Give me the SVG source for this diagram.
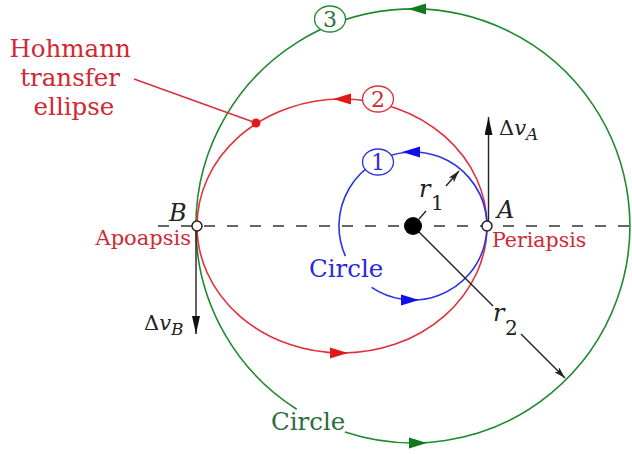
<svg xmlns="http://www.w3.org/2000/svg" xmlns:xlink="http://www.w3.org/1999/xlink" width="632" height="454" viewBox="0 0 632 454">
  <style>
    text { font-family: "DejaVu Serif", "Liberation Serif", serif; }
    .red { fill: #cf2a33; }
    .blue { fill: #2a2ad6; }
    .green { fill: #2c6e3c; }
    .ink { fill: #222; }
    .it { font-style: italic; }
    .orbit { fill: none; stroke-width: 1.6; }
    .lbl { fill: #fff; stroke-width: 1.3; }
    .digit { font-size: 22px; text-anchor: middle; }
    .blk { stroke: #222; stroke-width: 1.4; fill: none; }
  </style>
  <defs>
    <path id="ah" d="M9,0 L-9,-5.5 L-9,5.5 Z"/>
    <marker id="dv" viewBox="0 0 18 8" refX="18" refY="4" markerWidth="18" markerHeight="8" markerUnits="userSpaceOnUse" orient="auto">
      <path d="M0,0 L18,4 L0,8 Z" fill="#111"/>
    </marker>
    <marker id="rad" viewBox="0 0 12 7" refX="12" refY="3.5" markerWidth="12" markerHeight="7" markerUnits="userSpaceOnUse" orient="auto">
      <path d="M0,0 L12,3.5 L0,7 L3,3.5 Z" fill="#222"/>
    </marker>
  </defs>

  <!-- apse line -->
  <line x1="158" y1="226" x2="632" y2="226" stroke="#333" stroke-width="1.5" stroke-dasharray="11 12"/>

  <!-- orbit 3: outer circle -->
  <g id="orbit3">
    <path class="orbit" stroke="#1f8a2f" d="M296.7,409.2 A217,217 0 1 1 344.9,432.0"/>
    <use xlink:href="#ah" fill="#127a1c" transform="translate(417,9) rotate(180)"/>
    <use xlink:href="#ah" fill="#127a1c" transform="translate(418,443)"/>
    <ellipse class="lbl" stroke="#1f8a2f" cx="330" cy="19" rx="15.5" ry="13"/>
    <text class="digit green" x="330" y="27">3</text>
    <text class="green" x="271" y="430" font-size="24.5">Circle</text>
  </g>

  <!-- orbit 2: transfer ellipse -->
  <g id="orbit2">
    <ellipse class="orbit" stroke="#e0303a" cx="342" cy="226" rx="145" ry="127"/>
    <use xlink:href="#ah" fill="#e01818" transform="translate(342,99) rotate(180)"/>
    <use xlink:href="#ah" fill="#e01818" transform="translate(339,353)"/>
    <ellipse class="lbl" stroke="#e0303a" cx="378" cy="99" rx="15.5" ry="13"/>
    <text class="digit red" x="378" y="107">2</text>
    <circle cx="256" cy="123" r="4.5" fill="#e01818"/>
  </g>

  <!-- orbit 1: inner circle -->
  <g id="orbit1">
    <path class="orbit" stroke="#2a35e0" d="M345.4,256.1 A74,74 0 1 1 371.6,287.3"/>
    <use xlink:href="#ah" fill="#1010e8" transform="translate(411,152) rotate(180)"/>
    <use xlink:href="#ah" fill="#1010e8" transform="translate(410,300)"/>
    <ellipse class="lbl" stroke="#2a35e0" cx="378" cy="162" rx="15.5" ry="13"/>
    <text class="digit blue" x="378" y="170">1</text>
    <text class="blue" x="309" y="277" font-size="24.5">Circle</text>
  </g>

  <!-- connectors -->
  <g id="connectors">
    <line x1="134" y1="79" x2="252" y2="121.5" stroke="#d8303a" stroke-width="1.4"/>
    <line class="blk" x1="488.5" y1="221" x2="488.5" y2="117" marker-end="url(#dv)"/>
    <line class="blk" x1="196" y1="231" x2="196" y2="334" marker-end="url(#dv)"/>
    <line class="blk" x1="413" y1="226" x2="493" y2="306"/>
    <line class="blk" x1="521" y1="334" x2="565" y2="378" marker-end="url(#rad)"/>
    <line class="blk" x1="419" y1="219" x2="426" y2="211"/>
    <line class="blk" x1="446" y1="186" x2="459" y2="171" marker-end="url(#rad)"/>
  </g>

  <!-- central body -->
  <g id="body">
    <circle cx="413" cy="226" r="9" fill="#000"/>
  </g>

  <!-- apsis points -->
  <g id="pointA">
    <circle cx="487" cy="226" r="5" fill="#fff" stroke="#222" stroke-width="1.5"/>
    <text class="ink it" x="497" y="218" font-size="24">A</text>
    <text class="red" x="492" y="247" font-size="20.5">Periapsis</text>
  </g>
  <g id="pointB">
    <circle cx="197" cy="226" r="5" fill="#fff" stroke="#222" stroke-width="1.5"/>
    <text class="ink it" x="169" y="221" font-size="24">B</text>
    <text class="red" x="191" y="245" font-size="21" text-anchor="end">Apoapsis</text>
  </g>

  <!-- labels -->
  <g id="labels">
    <text class="red" font-size="24.5" text-anchor="middle">
      <tspan x="74" y="57">Hohmann</tspan>
      <tspan x="74" y="86">transfer</tspan>
      <tspan x="74" y="115">ellipse</tspan>
    </text>
    <text class="ink" x="499" y="135" font-size="21">Δ<tspan class="it">v</tspan><tspan class="it" font-size="17" dy="5">A</tspan></text>
    <text class="ink" x="144" y="330" font-size="21">Δ<tspan class="it">v</tspan><tspan class="it" font-size="17" dy="5">B</tspan></text>
    <text class="ink" font-size="24"><tspan class="it" x="419" y="197">r</tspan><tspan x="431" y="210" font-size="20">1</tspan></text>
    <text class="ink" font-size="24"><tspan class="it" x="493" y="321">r</tspan><tspan x="505" y="335" font-size="20">2</tspan></text>
  </g>
</svg>
